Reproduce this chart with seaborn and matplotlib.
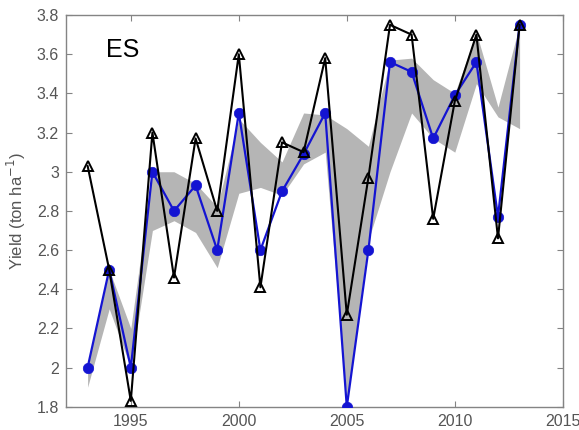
import matplotlib
matplotlib.use("Agg")
import matplotlib.pyplot as plt
from matplotlib.ticker import FuncFormatter
import numpy as np
import pandas as pd
import seaborn as sns

# Annual yields, 1993-2013
years = [1993, 1994, 1995, 1996, 1997, 1998, 1999, 2000, 2001, 2002, 2003,
         2004, 2005, 2006, 2007, 2008, 2009, 2010, 2011, 2012, 2013]
simulated = [2.00, 2.50, 2.00, 3.00, 2.80, 2.93, 2.60, 3.30, 2.60, 2.90, 3.09,
             3.30, 1.80, 2.60, 3.56, 3.51, 3.17, 3.39, 3.56, 2.77, 3.75]
observed = [3.03, 2.50, 1.83, 3.20, 2.46, 3.17, 2.80, 3.60, 2.41, 3.15, 3.10,
            3.58, 2.27, 2.97, 3.75, 3.70, 2.76, 3.36, 3.70, 2.66, 3.75]
band_low = [1.90, 2.30, 2.00, 2.70, 2.75, 2.69, 2.51, 2.89, 2.92, 2.88, 3.04,
            3.10, 1.83, 2.65, 3.00, 3.30, 3.17, 3.10, 3.45, 3.28, 3.22]
band_high = [2.02, 2.50, 2.20, 3.00, 3.00, 2.94, 2.82, 3.27, 3.15, 3.05, 3.30,
             3.29, 3.22, 3.13, 3.57, 3.58, 3.47, 3.40, 3.71, 3.33, 3.75]

xticks = [1995, 2000, 2005, 2010, 2015]
yticks = [1.8, 2.0, 2.2, 2.4, 2.6, 2.8, 3.0, 3.2, 3.4, 3.6, 3.8]

df = pd.DataFrame({"year": years, "sim": simulated, "obs": observed,
                   "lo": band_low, "hi": band_high})

sns.set_style("white")
plt.rcParams["font.family"] = ["Liberation Sans", "DejaVu Sans"]

fig = plt.figure(figsize=(5.79, 4.30), dpi=100)
ax = fig.add_axes([0.114, 0.054, 0.858, 0.911])

ax.fill_between(df["year"], df["lo"], df["hi"], color="#b5b5b5",
                linewidth=0, zorder=1)

blue = "#1414d2"
sns.lineplot(data=df, x="year", y="sim", ax=ax, color=blue, linewidth=1.6,
             marker="o", markersize=7.5, markerfacecolor=blue,
             markeredgecolor=blue, markeredgewidth=0.5, zorder=3)
sns.lineplot(data=df, x="year", y="obs", ax=ax, color="black", linewidth=1.5,
             marker="^", markersize=7, markerfacecolor="none",
             markeredgecolor="black", markeredgewidth=1.4, zorder=4)

ax.set_xlim(1992, 2015)
ax.set_ylim(1.8, 3.8)
ax.set_xticks(xticks)
ax.set_yticks(yticks)
ax.yaxis.set_major_formatter(FuncFormatter(lambda v, p: f"{v:g}"))

grey = "#848484"
for s in ax.spines.values():
    s.set_visible(True)
    s.set_color(grey)
    s.set_linewidth(1.0)
ax.tick_params(direction="in", length=4, width=0.8, color=grey,
               labelcolor="#555555", labelsize=11.5, top=True, right=True,
               bottom=True, left=True, pad=5)

ax.set_xlabel("")
ax.set_ylabel("Yield (ton ha$^{-1}$)", fontsize=12, color="#555555",
              labelpad=6)
ax.text(0.08, 0.91, "ES", transform=ax.transAxes, fontsize=18,
        color="black", ha="left", va="center")

fig.savefig("out.png", dpi=100)
